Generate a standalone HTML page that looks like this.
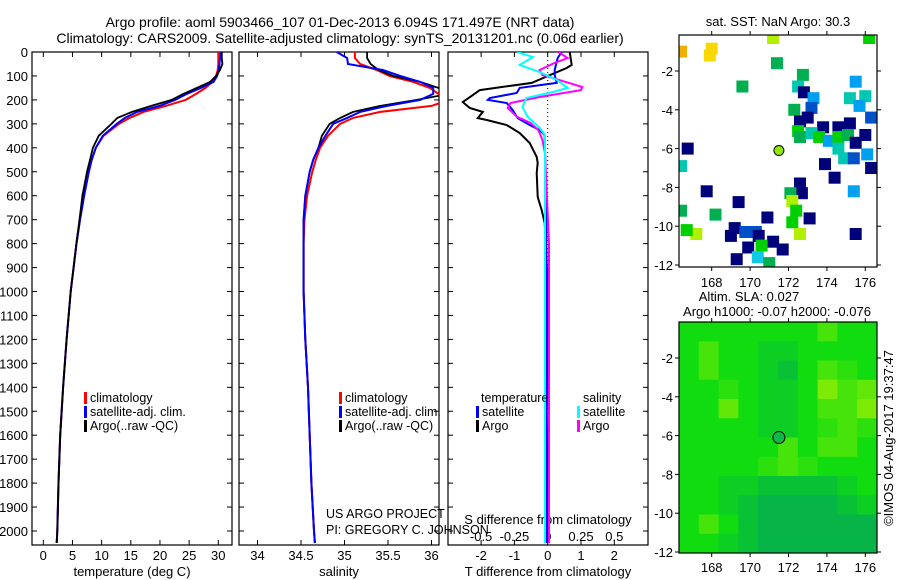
<!DOCTYPE html>
<html><head><meta charset="utf-8">
<style>
html,body{margin:0;padding:0;background:#fff;}
svg{display:block;font-family:"Liberation Sans",sans-serif;}
text{fill:#000;}
</style></head>
<body>
<svg id="chart" width="900" height="580" viewBox="0 0 900 580" xmlns="http://www.w3.org/2000/svg">
<defs>
<clipPath id="c1"><rect x="32" y="52" width="200" height="493"/></clipPath>
<clipPath id="c2"><rect x="239" y="52" width="200" height="493"/></clipPath>
<clipPath id="c3"><rect x="448" y="52" width="200" height="493"/></clipPath>
<clipPath id="cm1"><rect x="679" y="35" width="198" height="232"/></clipPath>
<clipPath id="cm2"><rect x="679" y="322" width="198" height="231"/></clipPath>
</defs>
<g id="titles" font-size="14">
<text x="340" y="27" text-anchor="middle">Argo profile: aoml 5903466_107 01-Dec-2013 6.094S 171.497E (NRT data)</text>
<text x="340" y="43" text-anchor="middle">Climatology: CARS2009. Satellite-adjusted climatology: synTS_20131201.nc (0.06d earlier)</text>
<text x="778" y="26" text-anchor="middle" font-size="13">sat. SST: NaN Argo: 30.3</text>
<text x="749" y="301" text-anchor="middle" font-size="13">Altim. SLA: 0.027</text>
<text x="777" y="316" text-anchor="middle" font-size="13">Argo h1000: -0.07 h2000: -0.076</text>
<text transform="translate(893,438) rotate(-90)" text-anchor="middle" font-size="13">©IMOS 04-Aug-2017 19:37:47</text>
<text x="326" y="518" font-size="12.5">US ARGO PROJECT</text>
<text x="326" y="534" font-size="12.5">PI: GREGORY C. JOHNSON</text>
</g>
<g id="plots"></g>
</svg>
<script>
// ---- profile data ----
const depths = [0,25,50,75,100,125,150,175,200,225,250,275,300,350,400,450,500,600,700,800,900,1000,1200,1400,1600,1800,2000,2050];
const tempClim = [30.0,30.0,30.0,29.9,29.6,29.0,27.8,26.2,24.4,21.0,17.2,14.8,13.0,10.3,9.0,8.3,7.8,7.0,6.3,5.7,5.2,4.7,4.0,3.4,2.9,2.6,2.4,2.3];
const tempSat = [30.4,30.3,30.2,30.1,29.8,29.2,27.0,24.6,22.6,19.9,16.1,14.0,12.6,10.2,9.0,8.3,7.8,7.0,6.3,5.7,5.2,4.7,4.0,3.4,2.9,2.6,2.4,2.3];
const tempArgo = [30.6,30.6,30.7,30.3,29.6,28.6,26.3,24.0,22.0,18.5,15.2,12.7,11.7,9.5,8.5,8.0,7.5,6.7,6.2,5.65,5.2,4.7,4.0,3.4,2.9,2.6,2.4,2.3];
const salClim = [35.12,35.12,35.18,35.37,35.52,35.79,35.98,36.08,36.2,36.0,35.41,35.1,34.95,34.81,34.72,34.67,34.63,34.57,34.54,34.53,34.53,34.53,34.55,34.58,34.6,34.62,34.65,34.66];
const salSat = [34.91,35.03,35.04,35.44,35.64,35.87,36.02,36.02,35.87,35.49,35.18,35.03,34.87,34.78,34.7,34.64,34.6,34.55,34.53,34.53,34.53,34.53,34.55,34.58,34.6,34.62,34.65,34.66];
const salArgo = [35.26,35.26,35.3,35.39,35.56,35.87,36.08,36.2,35.83,35.41,35.1,34.95,34.83,34.74,34.7,34.64,34.6,34.55,34.53,34.53,34.53,34.53,34.55,34.58,34.6,34.62,34.65,34.66];
const dTdepths = [0,54,67,88,129,159,180,209,234,250,276,284,305,338,380,438,463,505,605,660,714,800,1000,1500,2050];
const dTArgo = [0.66,0.72,0.57,0.21,-0.48,-2.04,-2.25,-2.55,-2.34,-1.95,-2.1,-1.83,-1.23,-0.84,-0.54,-0.33,-0.30,-0.33,-0.30,-0.18,-0.09,-0.05,0,-0.03,0];
const dTSdepths = [0,25,75,96,129,150,171,192,200,213,242,276,305,326,347,600,1000,1600,2050];
const dTSat = [0.42,0.3,0.21,0.21,0.27,-0.84,-0.93,-1.74,-1.8,-1.23,-1.05,-0.9,-0.54,-0.24,-0.09,-0.05,-0.03,-0.05,-0.03];
const dSAdepths = [0,25,46,75,96,129,146,159,188,213,234,271,296,326,367,422,800,2050];
const dSArgo = [0.08,0.15,0.05,-0.06,-0.04,0.16,0.26,0.25,-0.06,-0.28,-0.3,-0.23,-0.13,-0.07,-0.04,-0.02,0.01,0.01];
const dSSdepths = [0,21,54,84,117,150,167,192,230,271,317,347,800,2050];
const dSSat = [-0.23,-0.11,-0.21,-0.06,0.07,0.15,0.04,-0.16,-0.19,-0.15,-0.06,-0.02,-0.02,-0.02];
const depthTicks = [0,100,200,300,400,500,600,700,800,900,1000,1100,1200,1300,1400,1500,1600,1700,1800,1900,2000];
const tempTicks = [0,5,10,15,20,25,30];
const salTicks = [34,34.5,35,35.5,36];
const salTickLabels = ["34","34.5","35","35.5","36"];
const dTTicks = [-2,-1,0,1,2];
const dSTicks = [-0.5,-0.25,0,0.25,0.5];
const dSTickLabels = ["-0.5","-0.25","0","0.25","0.5"];
// ---- map data ----
const lonTicks = [168,170,172,174,176];
const latTicks = [-2,-4,-6,-8,-10,-12];
const sstPalette = ["#00007a","#0050c8","#00a0f0","#10c8e8","#00c8b0","#00b050","#00d000","#b0f000","#f8d800","#f0b000"];
const sstLon = [168.0,167.9,166.4,171.2,176.2,171.4,169.6,172.75,172.5,172.8,173.3,175.5,175.2,176.0,175.7,176.3,172.3,173.2,173.0,172.6,173.8,174.6,175.2,176.0,172.5,172.6,173.2,173.6,174.1,174.6,175.1,175.5,174.6,174.9,175.4,176.1,176.3,173.9,174.4,166.75,167.74,172.6,172.7,172.1,172.2,172.4,175.4,169.4,168.2,170.9,172.2,173.1,172.6,169.2,169.75,169.0,170.3,170.45,171.2,171.7,170.6,169.9,170.4,169.3,171.0,175.5,167.2,166.7,166.4,166.4];
const sstLat = [-0.85,-1.2,-1.0,-0.3,-0.3,-1.6,-2.8,-2.2,-2.8,-3.1,-3.4,-2.55,-3.4,-3.3,-3.8,-4.4,-4.0,-3.9,-4.4,-4.6,-4.9,-4.9,-4.7,-5.3,-5.1,-5.4,-5.2,-5.4,-5.6,-5.4,-5.3,-5.7,-6.0,-6.5,-6.5,-6.3,-7.0,-6.8,-7.5,-6.0,-8.2,-7.8,-8.3,-8.3,-8.7,-9.2,-8.2,-8.76,-9.4,-9.55,-9.8,-9.6,-10.4,-10.1,-10.3,-10.5,-10.3,-10.5,-10.8,-11.2,-11.0,-11.1,-11.6,-11.7,-11.9,-10.4,-10.4,-10.2,-6.9,-9.2];
const sstCat = [8,8,9,7,6,5,5,5,4,0,2,2,4,4,2,1,5,1,0,0,0,0,0,0,6,5,4,6,2,6,5,0,4,4,1,2,0,0,0,0,0,0,0,5,7,6,2,0,5,0,6,0,7,0,1,0,1,0,0,0,6,0,3,0,5,0,7,6,4,5];
const slaGrid = [
 [0,0,0,0,0,0,0,1,0,0],
 [0,1,0,0,-0.5,-0.5,0,0,0,0],
 [0,1,0,0,-0.5,-1,0,1,0.5,0],
 [0,0,0.5,0,-0.5,-0.5,0,2,1,1.5],
 [0,0,1.5,0,-0.5,-0.5,0,1,1,2],
 [0,0,0,0,-0.5,-0.5,0,0.5,1,0.5],
 [0,0,0,0,0,1,0,1,1,0],
 [0,0,0,0,0.5,1,0.5,0,0,0],
 [0,0,-0.5,-0.5,-1,-1,-1,-1,-0.5,0],
 [0,0,-0.5,-1,-1.5,-1.5,-1.5,-1.5,-1,-0.5],
 [0,1,0,-1,-1.5,-1.5,-1.5,-1.5,-1.5,-1.5],
 [0,0,-0.5,-1,-1.5,-1.5,-1.5,-1.5,-1.5,-1.5]];
const argoLon = 171.5, argoLat = -6.1;

const NS="http://www.w3.org/2000/svg";
const root=document.getElementById('plots');
function mk(tag,attrs,parent){const e=document.createElementNS(NS,tag);for(const k in attrs)e.setAttribute(k,attrs[k]);(parent||root).appendChild(e);return e;}
const yD = d => 52 + d*0.2395;
const xT = t => 43.3 + t*5.833;
const xS = s => 257.5 + (s-34)*87;
const xdT = v => 547.7 + v*33.3;
const xdS = v => 547.7 + v*133.2;
const mx = lon => 711.7 + (lon-168)*19.2;
const myTop = lat => 71 - (lat+2)*19.4;
const myBot = lat => 358 - (lat+2)*19.4;

function frame(x,y,w,h,name){const r=mk('rect',{x:x,y:y,width:w,height:h,fill:'none',stroke:'#000','stroke-width':1.2});}
function line(x1,y1,x2,y2,sw){return mk('line',{x1:x1,y1:y1,x2:x2,y2:y2,stroke:'#000','stroke-width':sw||1});}
function txt(x,y,s,anchor,size,name){const t=mk('text',{x:x,y:y,'text-anchor':anchor||'middle','font-size':size||13});t.textContent=s;return t;}
function stepPath(xs,ds,fx,color,clip,name,w){
  let p='';for(let i=0;i<xs.length;i++){const X=fx(xs[i]).toFixed(1),Y=yD(ds[i]).toFixed(1);p+=(i?'L':'M')+X+' '+Y;}
  const e=mk('path',{d:p,fill:'none',stroke:color,'stroke-width':w||2,'clip-path':'url(#'+clip+')'});
  }

const panels=[[32,'temperature-panel'],[239,'salinity-panel'],[448,'difference-panel']];
panels.forEach(p=>frame(p[0],52,200,493,p[1]+'-frame'));
depthTicks.forEach(d=>{const y=yD(d);
  txt(28,y+5,String(d),'end',13,'depth-tick-label');
  panels.forEach(p=>{line(p[0],y,p[0]+5,y);line(p[0]+200,y,p[0]+195,y);});
});
tempTicks.forEach(t=>{const x=xT(t);line(x,52,x,57);line(x,545,x,540);txt(x,560,String(t),'middle',13,'temp-tick-label');});
txt(132,576,'temperature (deg C)','middle',13,'x-axis-title-temperature');
salTicks.forEach((s,i)=>{const x=xS(s);line(x,52,x,57);line(x,545,x,540);txt(x,560,salTickLabels[i],'middle',13,'salinity-tick-label');});
txt(339,576,'salinity','middle',13,'x-axis-title-salinity');
dTTicks.forEach(t=>{const x=xdT(t);line(x,52,x,57);line(x,545,x,540);txt(x,560,String(t),'middle',13,'tdiff-tick-label');});
dSTicks.forEach((s,i)=>{txt(xdS(s),541,dSTickLabels[i],'middle',13,'sdiff-tick-label');});
txt(548,524,'S difference from climatology','middle',13,'sdiff-axis-title');
txt(548,576,'T difference from climatology','middle',13,'x-axis-title-tdiff');
const z=mk('line',{x1:xdT(0),y1:52,x2:xdT(0),y2:410,stroke:'#000','stroke-width':1,'stroke-dasharray':'1,3'});


stepPath(tempClim,depths,xT,'#ff0000','c1','temp-climatology-line');
stepPath(tempSat,depths,xT,'#0000ff','c1','temp-satellite-line');
stepPath(tempArgo,depths,xT,'#000000','c1','temp-argo-line',1.8);
stepPath(salClim,depths,xS,'#ff0000','c2','salinity-climatology-line');
stepPath(salArgo,depths,xS,'#000000','c2','salinity-argo-line',1.8);
stepPath(salSat,depths,xS,'#0000ff','c2','salinity-satellite-line');
stepPath(dTArgo,dTdepths,xdT,'#000000','c3','tdiff-argo-line');
stepPath(dTSat,dTSdepths,xdT,'#0000ff','c3','tdiff-satellite-line');
stepPath(dSArgo,dSAdepths,xdS,'#ff00ff','c3','sdiff-argo-line');
stepPath(dSSat,dSSdepths,xdS,'#00ffff','c3','sdiff-satellite-line');

function leg(x,y,color,label,name){const g=mk('g',{});
  if(color)mk('rect',{x:x-6,y:y-10,width:3,height:12,fill:color},g);
  const t=mk('text',{x:x,y:y,'font-size':12.5},g);t.textContent=label;}
leg(90,402,'#ff0000','climatology','legend-temp-climatology');
leg(90,416,'#0000ff','satellite-adj. clim.','legend-temp-satellite');
leg(90,430,'#000000','Argo(..raw -QC)','legend-temp-argo');
leg(345,402,'#ff0000','climatology','legend-sal-climatology');
leg(345,416,'#0000ff','satellite-adj. clim.','legend-sal-satellite');
leg(345,430,'#000000','Argo(..raw -QC)','legend-sal-argo');
leg(481,402,null,'temperature','legend-temperature-header');
leg(482,416,'#0000ff','satellite','legend-tdiff-satellite');
leg(482,430,'#000000','Argo','legend-tdiff-argo');
leg(583,402,null,'salinity','legend-salinity-header');
leg(583,416,'#00ffff','satellite','legend-sdiff-satellite');
leg(583,430,'#ff00ff','Argo','legend-sdiff-argo');

const g1=mk('g',{'clip-path':'url(#cm1)'});
for(let i=0;i<sstLon.length;i++){
  const r=mk('rect',{x:(mx(sstLon[i])-6).toFixed(1),y:(myTop(sstLat[i])-6).toFixed(1),width:12,height:12,fill:sstPalette[sstCat[i]]},g1);
  
  
}
const a1=mk('circle',{cx:mx(argoLon),cy:myTop(argoLat),r:5,fill:'#90e800',stroke:'#000','stroke-width':1});

frame(679,35,198,232,'sst-map-frame');

const g2=mk('g',{'clip-path':'url(#cm2)'});
function slaColor(v){ if(v>=0){const t=v/2;return 'rgb('+Math.round(16+t*110)+','+Math.round(220+t*15)+','+Math.round(16-t*10)+')';}
  const t=-v/1.5;return 'rgb('+Math.round(16-t*10)+','+Math.round(220-t*40)+','+Math.round(16+t*56)+')';}
const cw=198/10, ch=231/12;
for(let r=0;r<slaGrid.length;r++)for(let c=0;c<slaGrid[r].length;c++){
  const e=mk('rect',{x:(679+c*cw).toFixed(1),y:(322+r*ch).toFixed(1),width:(cw+0.6).toFixed(1),height:(ch+0.6).toFixed(1),fill:slaColor(slaGrid[r][c])},g2);
  
  
}
const a2=mk('circle',{cx:mx(argoLon),cy:myBot(argoLat),r:6,fill:'#10b848',stroke:'#000','stroke-width':1});

frame(679,322,198,231,'sla-map-frame');

lonTicks.forEach(l=>{const x=mx(l);
  line(x,35,x,31);line(x,267,x,271);txt(x,287,String(l),'middle',13,'sst-lon-tick-label');
  line(x,322,x,318);line(x,553,x,557);txt(x,572,String(l),'middle',13,'sla-lon-tick-label');});
latTicks.forEach(l=>{const y1=myTop(l),y2=myBot(l);
  line(679,y1,675,y1);line(877,y1,881,y1);txt(673,y1+5,String(l),'end',13,'sst-lat-tick-label');
  line(679,y2,675,y2);line(877,y2,881,y2);txt(673,y2+5,String(l),'end',13,'sla-lat-tick-label');});
</script>
</body></html>
